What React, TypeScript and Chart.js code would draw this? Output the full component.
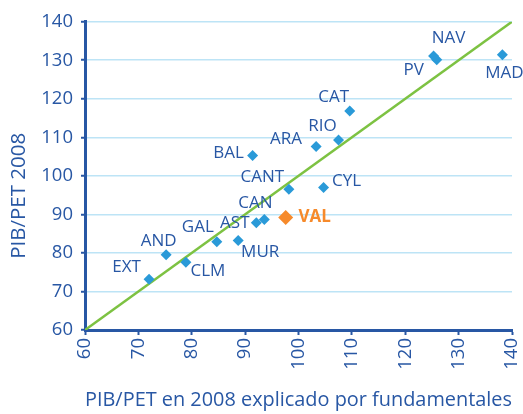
import React, { useEffect, useRef } from 'react';
import { Chart, registerables } from 'chart.js';

Chart.register(...registerables);

// ---- data ----
const regions = ['EXT', 'AND', 'CLM', 'GAL', 'MUR', 'AST', 'CAN', 'CANT', 'VAL', 'CYL', 'BAL', 'ARA', 'RIO', 'CAT', 'NAV', 'PV', 'MAD'];
const explainedByFundamentals = [72.0, 75.2, 78.9, 84.7, 88.7, 92.1, 93.6, 98.2, 97.6, 104.7, 91.4, 103.3, 107.5, 109.6, 125.3, 125.9, 138.2];
const pibPet2008 = [73.2, 79.5, 77.6, 82.9, 83.2, 87.8, 88.7, 96.5, 89.2, 97.0, 105.3, 107.6, 109.3, 116.8, 131.1, 130.1, 131.4];
const highlightRegion = 'VAL';
const diagonalEnds = [60, 140];
const axisMin = 60;
const axisMax = 140;
const axisStep = 10;
const xTitle = 'PIB/PET en 2008 explicado por fundamentales';
const yTitle = 'PIB/PET 2008';

// ---- label placement (pixel offsets from the marker, style only) ----
const labelOffsets: Record<string, [number, number]> = {
  EXT: [-22.5, -12], AND: [-7.5, -14], CLM: [22, 9], GAL: [-19, -15], MUR: [22, 12],
  AST: [-21.5, 0], CAN: [-9, -16], CANT: [-26.5, -12], VAL: [29, 0], CYL: [23, -6],
  BAL: [-24, -2], ARA: [-30, -7], RIO: [-16, -14], CAT: [-16, -14], NAV: [15, -18],
  PV: [-23, 10], MAD: [2, 18],
};

const DARK_BLUE = '#2857a4';
const POINT_BLUE = '#2a9ad8';
const ORANGE = '#f68a2b';
const GREEN = '#7dc242';
const GRID = '#bde4f6';
const FONT = '"Open Sans", Lato, sans-serif';

const labelPlugin = {
  id: 'regionLabels',
  afterDatasetsDraw(chart: any) {
    const meta = chart.getDatasetMeta(0);
    const ctx = chart.ctx;
    ctx.save();
    ctx.textAlign = 'center';
    ctx.textBaseline = 'middle';
    meta.data.forEach((el: any, i: number) => {
      const name = regions[i];
      const off = labelOffsets[name] || [0, -14];
      const hi = name === highlightRegion;
      ctx.font = `${hi ? 'bold ' : ''}17px ${FONT}`;
      ctx.fillStyle = hi ? ORANGE : DARK_BLUE;
      ctx.fillText(name, el.x + off[0], el.y + off[1]);
    });
    // y-axis title (sits a little below the plot centre in the reference)
    const area = chart.chartArea;
    ctx.translate(19.5, (area.top + area.bottom) / 2 + 20);
    ctx.rotate(-Math.PI / 2);
    ctx.font = `20.5px ${FONT}`;
    ctx.fillStyle = DARK_BLUE;
    ctx.fillText(yTitle, 0, 0);
    ctx.restore();
  },
};

export default function App() {
  const ref = useRef<HTMLCanvasElement>(null);
  useEffect(() => {
    const chart = new Chart(ref.current!, {
      type: 'scatter',
      data: {
        datasets: [
          {
            data: regions.map((_, i) => ({ x: explainedByFundamentals[i], y: pibPet2008[i] })),
            pointStyle: 'rectRot',
            pointRadius: regions.map((r) => (r === highlightRegion ? 7.5 : 5.5)),
            backgroundColor: regions.map((r) => (r === highlightRegion ? ORANGE : POINT_BLUE)),
            borderWidth: 0,
            order: 0,
          } as any,
          {
            type: 'line',
            data: diagonalEnds.map((v) => ({ x: v, y: v })),
            borderColor: GREEN,
            borderWidth: 2.5,
            pointRadius: 0,
            showLine: true,
            fill: false,
            order: 1,
          } as any,
        ],
      },
      options: {
        animation: false,
        responsive: false,
        maintainAspectRatio: false,
        layout: { padding: { top: 21.7, right: 11, left: 0, bottom: 0 } },
        plugins: { legend: { display: false }, tooltip: { enabled: false } },
        scales: {
          x: {
            type: 'linear',
            min: axisMin,
            max: axisMax,
            afterFit: (s: any) => { s.height = 84; s.paddingRight = 0; s.paddingLeft = 0; },
            ticks: {
              stepSize: axisStep,
              minRotation: 90,
              maxRotation: 90,
              color: DARK_BLUE,
              padding: 3,
              font: { family: FONT, size: 18.5 },
            },
            grid: { drawOnChartArea: false, drawTicks: true, tickLength: 5, tickColor: DARK_BLUE, tickWidth: 2 },
            border: { color: DARK_BLUE, width: 3 },
            title: {
              display: true,
              text: xTitle,
              color: DARK_BLUE,
              font: { family: FONT, size: 20.2 },
              padding: { top: 0, bottom: 1.5 },
            },
          },
          y: {
            type: 'linear',
            min: axisMin,
            max: axisMax,
            afterFit: (s: any) => { s.width = 85; },
            ticks: {
              stepSize: axisStep,
              color: DARK_BLUE,
              padding: 8,
              font: { family: FONT, size: 18.5 },
            },
            grid: { color: GRID, lineWidth: 1.5, drawTicks: true, tickLength: 4, tickColor: DARK_BLUE, tickWidth: 2 },
            border: { color: DARK_BLUE, width: 3 },
            title: { display: false },
          },
        },
      } as any,
      plugins: [labelPlugin],
    });
    return () => chart.destroy();
  }, []);
  return (
    <div style={{ position: 'fixed', left: 0, top: 0, width: 523, height: 414, background: '#fff' }}>
      <canvas ref={ref} width={523} height={414} style={{ width: 523, height: 414, display: 'block' }} />
    </div>
  );
}
